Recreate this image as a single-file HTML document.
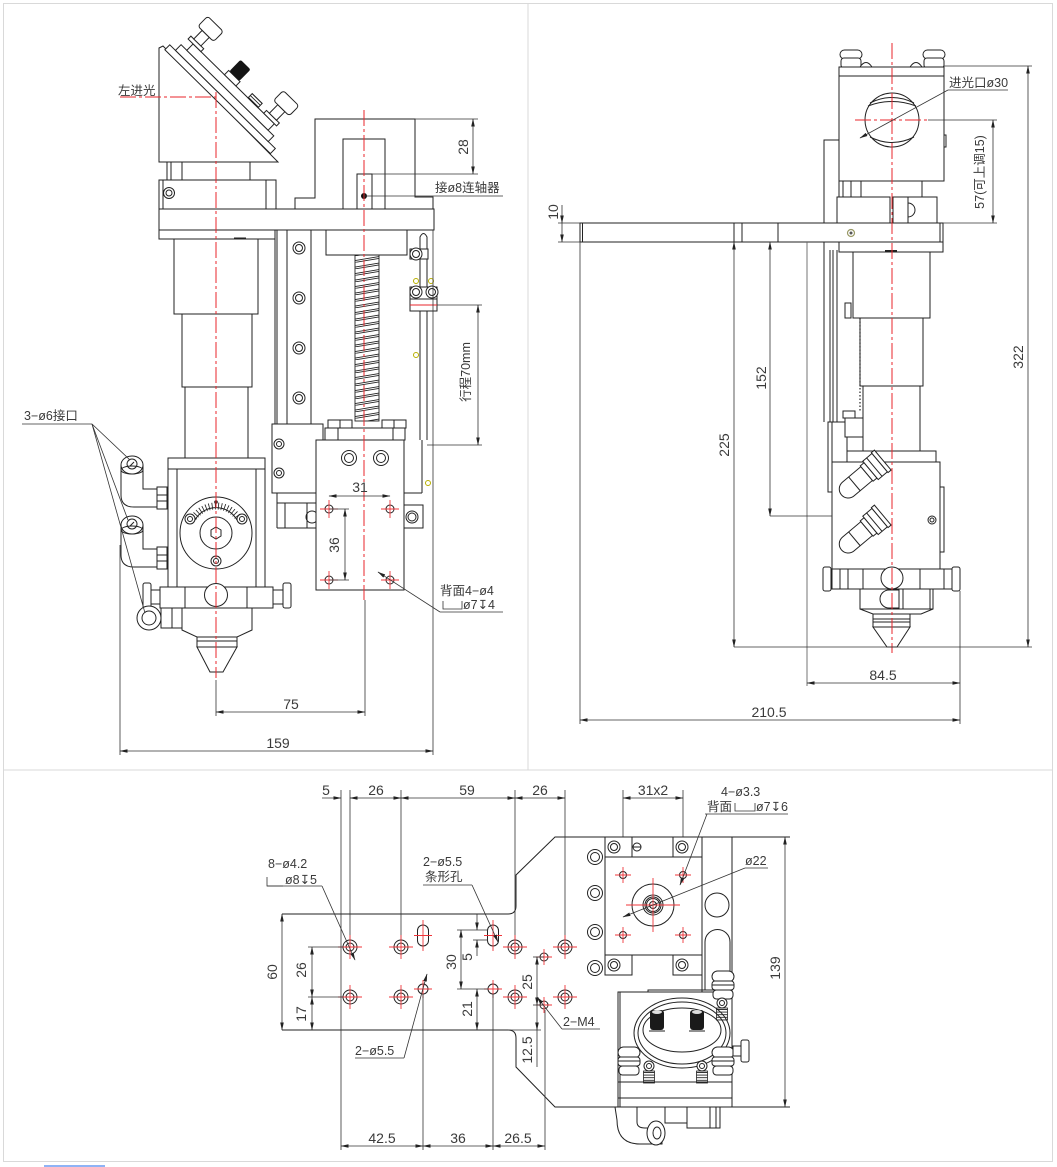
<!DOCTYPE html>
<html><head><meta charset="utf-8"><style>
html,body{margin:0;padding:0;background:#fff;}
svg{display:block;}
.k{fill:none;stroke:#222;stroke-width:1}
.w{fill:#fff;stroke:#222;stroke-width:1}
.g{fill:none;stroke:#666;stroke-width:0.9}
.r{fill:none;stroke:#e8262b;stroke-width:1;stroke-dasharray:16 3 3 3}
.rs{fill:none;stroke:#f0353a;stroke-width:0.9}
.d{fill:none;stroke:#333;stroke-width:0.8}
.y{fill:none;stroke:#b8b000;stroke-width:1}
text{font-family:"Liberation Sans","Noto Sans CJK SC",sans-serif;fill:#3a3a3a;font-size:14px}
.c{text-anchor:middle}
.s{font-size:12.5px}
</style></head><body>
<svg width="1057" height="1167" viewBox="0 0 1057 1167" xmlns="http://www.w3.org/2000/svg">
<defs>
<marker id="a" markerWidth="8" markerHeight="6" refX="7.5" refY="3" orient="auto-start-reverse" markerUnits="userSpaceOnUse"><path d="M0,1.2 L8,3 L0,4.8z" fill="#222"/></marker>
<pattern id="coil" patternUnits="userSpaceOnUse" x="355" y="256" width="24" height="6.5"><path d="M0,4.6 L24,0.6 M0,6.4 L24,2.4" stroke="#222" stroke-width="0.9" fill="none"/></pattern>
<pattern id="hat" patternUnits="userSpaceOnUse" width="10" height="2.6"><path d="M0,1.3 H10" stroke="#222" stroke-width="0.9"/></pattern>
<g id="hs"><circle r="7" class="k"/><circle r="4" class="k"/><path d="M-12,0H12M0,-12V12" class="rs"/></g>
<g id="sc"><circle r="6" class="w"/><circle r="3.5" class="k"/></g>
<g id="sc2"><circle r="7.5" class="w"/><circle r="4.5" class="k"/></g>
<g id="mk"><rect x="-11" y="-15" width="22" height="11" rx="5.5" class="w"/><rect x="-11" y="-5" width="22" height="9" rx="3" class="w"/><rect x="-10" y="4" width="20" height="9" rx="3.5" class="w"/><line x1="-11" y1="-1" x2="11" y2="-1" class="k"/></g>
<g id="th"><circle r="5" class="w"/><circle r="2.5" class="k"/><rect x="-5.5" y="5" width="11" height="12" fill="url(#hat)" stroke="#222" stroke-width="0.8"/></g>
<g id="elb"><path class="w" d="M-11,0 L-11,30 Q-11,42 2,42 L25,42 L25,24 L11,24 L11,0 Z"/><rect x="25" y="22" width="10" height="22" class="w"/><line x1="25" y1="30" x2="35" y2="30" class="k"/><line x1="25" y1="36" x2="35" y2="36" class="k"/><ellipse cx="0" cy="0" rx="11" ry="9" class="w"/><ellipse cx="0" cy="5" rx="11" ry="4" class="k"/><circle cx="0" cy="-1" r="5" class="k"/><line x1="-2" y1="1" x2="2" y2="-3" class="k"/></g>
<g id="ft"><path class="w" d="M-14,-9 L10,-9 L10,9 L-14,9 A9,9 0 0 1 -14,-9 Z"/><line x1="-6" y1="-9" x2="-6" y2="9" class="k"/><rect x="10" y="-10" width="5" height="20" class="w"/><rect x="15" y="-12" width="12" height="24" class="w"/><line x1="20" y1="-12" x2="20" y2="12" class="k"/><rect x="27" y="-13" width="4" height="26" class="w"/></g>
</defs>

<!-- frame -->
<rect x="3.5" y="3.5" width="1049" height="1158" fill="none" stroke="#d9d9d9"/>
<line x1="528" y1="3" x2="528" y2="770" stroke="#d9d9d9"/>
<line x1="3" y1="770" x2="1053" y2="770" stroke="#d9d9d9"/>
<line x1="44" y1="1166" x2="105" y2="1166" stroke="#8fb3f5" stroke-width="2"/>

<!-- ================= LEFT PANEL ================= -->
<!-- mirror block -->
<path class="w" d="M159,48 L163,46 L278,162 L159,162 Z"/>
<g transform="translate(162,47) rotate(44.5)">
 <rect class="w" x="4" y="-7" width="148" height="7"/>
 <rect class="w" x="12" y="-15" width="130" height="8"/>
 <rect class="w" x="20" y="-24" width="114" height="9"/>
 <rect class="w" x="13" y="-28" width="18" height="4"/>
 <rect class="w" x="17" y="-40" width="10" height="12"/>
 <rect class="w" x="11" y="-54" width="22" height="14" rx="3"/>
 <rect class="w" x="119" y="-28" width="18" height="4"/>
 <rect class="w" x="123" y="-40" width="10" height="12"/>
 <rect class="w" x="117" y="-54" width="22" height="14" rx="3"/>
 <rect class="w" x="64" y="-30" width="16" height="6"/>
 <rect x="65" y="-46" width="14" height="16" rx="2" fill="#151515"/>
 <rect x="97" y="-30" width="14" height="6" fill="url(#hat)" stroke="#222"/>
</g>
<rect class="w" x="167" y="162" width="83" height="18"/>
<line class="k" x1="171" y1="162" x2="171" y2="180"/><line class="k" x1="182" y1="162" x2="182" y2="180"/>
<rect class="w" x="159" y="180" width="117" height="29"/>
<line class="k" x1="163" y1="180" x2="163" y2="209"/><line class="k" x1="266" y1="180" x2="266" y2="209"/>
<circle class="k" cx="169" cy="193" r="5.5"/><circle class="k" cx="169" cy="193" r="3"/>

<!-- slider top structure -->
<polyline class="w" points="295,209 295,198 315,198 315,119 415,119 415,197 433,197 433,209"/>
<polyline class="k" points="343,209 343,139 385,139 385,209"/>
<rect class="w" x="357" y="174" width="15" height="35"/>
<circle cx="364" cy="196" r="3" fill="#111"/>
<!-- main plate -->
<rect class="w" x="159" y="209" width="275" height="21"/>
<rect class="w" x="159" y="230" width="116" height="9"/>
<line x1="234" y1="238.5" x2="246" y2="238.5" stroke="#222" stroke-width="2"/>
<!-- tube stack -->
<rect class="w" x="174" y="239" width="84" height="75"/>
<rect class="w" x="182" y="314" width="70" height="73"/>
<rect class="w" x="185" y="387" width="63" height="71"/>
<rect class="w" x="168" y="458" width="97" height="11"/>
<rect class="w" x="168" y="469" width="97" height="118"/>
<line class="k" x1="177" y1="469" x2="177" y2="587"/><line class="k" x1="256" y1="469" x2="256" y2="587"/>
<!-- dial -->
<circle class="k" cx="216" cy="533" r="36"/>
<circle class="k" cx="216" cy="533" r="16"/>
<polygon class="k" points="216,527 221,530 221,536 216,539 211,536 211,530"/>
<path d="M193.9,517.5 A27,27 0 0 1 238.1,517.5" fill="none" stroke="#222" stroke-width="7" stroke-dasharray="0.8 2.3"/>
<path d="M195,520 A24,24 0 0 1 237,520" class="k"/>
<circle class="w" cx="190" cy="519" r="5"/><circle class="k" cx="190" cy="519" r="2.5"/>
<circle class="w" cx="242" cy="519" r="5"/><circle class="k" cx="242" cy="519" r="2.5"/>
<circle class="w" cx="216" cy="561" r="5"/><circle class="k" cx="216" cy="561" r="2.5"/>
<circle cx="216" cy="502" r="1.8" fill="#222"/>
<!-- elbow fittings -->
<use href="#elb" x="132" y="465"/>
<use href="#elb" x="132" y="525"/>
<!-- bottom band -->
<rect class="w" x="160" y="587" width="113" height="21"/>
<line class="k" x1="185" y1="587" x2="185" y2="608"/><line class="k" x1="247" y1="587" x2="247" y2="608"/>
<rect class="w" x="151" y="590" width="9" height="14"/>
<rect class="w" x="143" y="583" width="8" height="25" rx="2"/>
<rect class="w" x="273" y="590" width="10" height="14"/>
<rect class="w" x="283" y="583" width="8" height="25" rx="2"/>
<circle class="w" cx="216" cy="595" r="11.5"/>
<!-- lower -->
<rect class="w" x="161" y="608" width="22" height="20"/>
<line class="k" x1="172" y1="608" x2="172" y2="628"/>
<circle class="w" cx="149" cy="618" r="12"/><circle class="k" cx="149" cy="618" r="7"/>
<polygon class="w" points="182,608 252,608 252,630 237,637 197,637 182,630"/>
<rect class="w" x="197" y="637" width="40" height="10"/>
<line class="k" x1="197" y1="641" x2="237" y2="641"/>
<polygon class="w" points="197,647 237,647 223,672 210,672"/>

<!-- rail & screw -->
<line class="k" x1="275" y1="230" x2="275" y2="424"/>
<line class="k" x1="277" y1="230" x2="277" y2="528"/>
<rect class="w" x="287" y="230" width="24" height="198"/>
<use href="#sc" x="299" y="248"/><use href="#sc" x="299" y="298"/><use href="#sc" x="299" y="348"/><use href="#sc" x="299" y="398"/>
<rect class="w" x="326" y="230" width="81" height="25"/>
<rect x="355" y="255" width="24" height="166" fill="url(#coil)" stroke="#222" stroke-width="0.9"/>
<rect class="w" x="328" y="420" width="24" height="8"/><line class="k" x1="340" y1="420" x2="340" y2="428"/>
<rect class="w" x="382" y="420" width="24" height="8"/><line class="k" x1="394" y1="420" x2="394" y2="428"/>
<rect class="w" x="325" y="428" width="80" height="12"/>
<line class="k" x1="338" y1="428" x2="338" y2="440"/><line class="k" x1="393" y1="428" x2="393" y2="440"/>
<!-- rod right -->
<path class="w" d="M420,440 L420,237 Q423.5,230 427,237 L427,440"/>
<rect class="w" x="410" y="249" width="18" height="10"/><use href="#sc" x="416" y="254"/>
<rect class="w" x="410" y="287" width="27" height="24"/>
<line class="k" x1="410" y1="299" x2="437" y2="299"/>
<line x1="410" y1="305" x2="437" y2="305" stroke="#e8262b"/>
<use href="#sc" x="416" y="292"/><use href="#sc" x="432" y="292"/>
<circle class="y" cx="416" cy="281" r="2.5"/><circle class="y" cx="431" cy="281" r="2.5"/><circle class="y" cx="416" cy="355" r="2.5"/><circle class="y" cx="428" cy="483" r="2.5"/>
<!-- carriage -->
<rect class="w" x="272" y="424" width="51" height="69"/>
<circle class="k" cx="279" cy="444" r="5"/><circle class="k" cx="279" cy="444" r="2.5"/>
<circle class="k" cx="279" cy="473" r="5"/><circle class="k" cx="279" cy="473" r="2.5"/>
<line class="k" x1="277" y1="493" x2="316" y2="493"/>
<line class="k" x1="277" y1="503" x2="316" y2="503"/>
<rect class="w" x="285" y="503" width="22" height="25"/>
<circle class="k" cx="312" cy="517" r="6"/>
<line class="k" x1="277" y1="528" x2="316" y2="528"/>
<line class="k" x1="422" y1="440" x2="422" y2="493"/>
<line class="k" x1="404" y1="493" x2="422" y2="493"/>
<rect class="w" x="404" y="505" width="19" height="23"/>
<circle class="k" cx="412" cy="517" r="6"/><circle class="k" cx="412" cy="517" r="4"/>
<rect class="w" x="316" y="440" width="88" height="150"/>
<use href="#sc2" x="349" y="458"/><use href="#sc2" x="381" y="458"/>
<g>
<circle class="k" cx="329" cy="509" r="4"/><path class="rs" d="M320,509H338M329,500V518"/>
<circle class="k" cx="390" cy="509" r="4"/><path class="rs" d="M381,509H399M390,500V518"/>
<circle class="k" cx="329" cy="580" r="4"/><path class="rs" d="M320,580H338M329,571V589"/>
<circle class="k" cx="390" cy="580" r="4"/><path class="rs" d="M381,580H399M390,571V589"/>
</g>
<!-- center lines -->
<line class="r" x1="216" y1="92" x2="216" y2="678"/>
<line class="r" x1="120" y1="97" x2="216" y2="97"/>
<line class="r" x1="364" y1="110" x2="364" y2="600"/>
<!-- left panel dims -->
<text x="118" y="95" class="s">左进光</text>
<line class="d" x1="415" y1="119" x2="478" y2="119"/>
<line class="d" x1="372" y1="174" x2="478" y2="174"/>
<line class="d" x1="473" y1="119" x2="473" y2="174" marker-start="url(#a)" marker-end="url(#a)"/>
<text class="c" transform="rotate(-90 468 147)" x="468" y="147">28</text>
<line class="d" x1="364" y1="196" x2="503" y2="196"/>
<text x="435" y="192" class="s">接ø8连轴器</text>
<line class="d" x1="437" y1="305" x2="482" y2="305"/>
<line class="d" x1="427" y1="445" x2="482" y2="445"/>
<line class="d" x1="478" y1="305" x2="478" y2="445" marker-start="url(#a)" marker-end="url(#a)"/>
<text class="c s" transform="rotate(-90 470 372)" x="470" y="372">行程70mm</text>
<line class="d" x1="329" y1="496" x2="390" y2="496" marker-start="url(#a)" marker-end="url(#a)"/>
<text class="c" x="360" y="492">31</text>
<line class="d" x1="329" y1="509" x2="349" y2="509"/>
<line class="d" x1="329" y1="580" x2="349" y2="580"/>
<line class="d" x1="345" y1="509" x2="345" y2="580" marker-start="url(#a)" marker-end="url(#a)"/>
<text class="c" transform="rotate(-90 339 545)" x="339" y="545">36</text>
<line class="d" x1="440" y1="612" x2="378" y2="572" marker-end="url(#a)"/>
<line class="d" x1="440" y1="612" x2="503" y2="612"/>
<text x="440" y="595" class="s">背面4−ø4</text>
<path class="d" d="M443,601 L443,609 L462,609 L462,601"/>
<text x="463" y="609" class="s">ø7↧4</text>
<text x="24" y="420" class="s">3−ø6接口</text>
<line class="d" x1="22" y1="424" x2="92" y2="424"/>
<line class="d" x1="92" y1="424" x2="130" y2="460"/>
<line class="d" x1="92" y1="424" x2="128" y2="520"/>
<line class="d" x1="92" y1="424" x2="145" y2="613"/>
<line class="d" x1="216" y1="680" x2="216" y2="716"/>
<line class="d" x1="365" y1="600" x2="365" y2="716"/>
<line class="d" x1="216" y1="712" x2="365" y2="712" marker-start="url(#a)" marker-end="url(#a)"/>
<text class="c" x="291" y="709">75</text>
<line class="d" x1="120" y1="545" x2="120" y2="755"/>
<line class="d" x1="433" y1="230" x2="433" y2="755"/>
<line class="d" x1="120" y1="751" x2="433" y2="751" marker-start="url(#a)" marker-end="url(#a)"/>
<text class="c" x="278" y="748">159</text>

<!-- ================= RIGHT TOP PANEL ================= -->
<!-- top knobs -->
<rect class="w" x="840" y="50" width="22" height="9" rx="4.5"/><rect class="w" x="841" y="58" width="20" height="10" rx="3"/>
<path class="w" d="M860,67 Q866,58 872,67 Z"/>
<path class="w" d="M910,67 Q916,58 922,67 Z"/>
<rect class="w" x="923" y="50" width="22" height="9" rx="4.5"/><rect class="w" x="924" y="58" width="20" height="10" rx="3"/>
<rect class="w" x="839" y="67" width="105" height="114"/>
<line class="k" x1="839" y1="76" x2="944" y2="76"/>
<rect class="w" x="944" y="135" width="2" height="12"/>
<rect class="w" x="824" y="140" width="15" height="83"/>
<circle class="w" cx="892" cy="120" r="27"/>
<path class="k" d="M870,103 Q892,92 914,103"/><path class="k" d="M870,137 Q892,148 914,137"/>
<path class="k" d="M868,106 Q892,97 916,106"/>
<!-- under block -->
<rect class="w" x="843" y="181" width="18" height="16"/><line class="k" x1="851" y1="181" x2="851" y2="197"/>
<line class="k" x1="922" y1="181" x2="922" y2="197"/>
<rect class="w" x="837" y="197" width="53" height="26"/>
<rect class="w" x="893" y="197" width="44" height="26"/>
<line class="k" x1="908" y1="197" x2="908" y2="223"/>
<path class="k" d="M908,203 A7,7 0 0 1 908,217"/>
<!-- arm -->
<rect class="w" x="580" y="223" width="363" height="19"/>
<line class="k" x1="582.5" y1="223" x2="582.5" y2="242"/>
<line class="k" x1="734" y1="223" x2="734" y2="242"/>
<line class="k" x1="742" y1="223" x2="742" y2="242"/>
<line class="k" x1="778" y1="223" x2="778" y2="242"/>
<line class="k" x1="940" y1="223" x2="940" y2="242"/>
<circle cx="851" cy="233" r="3.5" fill="none" stroke="#996" stroke-width="1.2"/><circle cx="851" cy="233" r="1.5" fill="#555"/>
<rect class="w" x="839" y="242" width="104" height="10"/>
<line x1="885" y1="251" x2="897" y2="251" stroke="#222" stroke-width="2"/>
<!-- rails -->
<line class="g" x1="807" y1="242" x2="807" y2="686"/>
<line class="k" x1="824" y1="242" x2="824" y2="422"/>
<line class="k" x1="830" y1="250" x2="830" y2="422"/>
<line class="k" x1="833" y1="250" x2="833" y2="422"/>
<line class="k" x1="837" y1="250" x2="837" y2="422"/>
<rect class="w" x="845" y="303" width="6" height="15"/>
<rect class="w" x="828" y="422" width="19" height="70"/>
<line class="k" x1="832" y1="422" x2="832" y2="492"/>
<rect class="w" x="843" y="411" width="12" height="7"/>
<rect class="w" x="845" y="418" width="18" height="19"/>
<!-- tubes -->
<rect class="w" x="853" y="252" width="77" height="66"/>
<rect class="w" x="860" y="318" width="63" height="68"/>
<line x1="860" y1="318" x2="860" y2="412" stroke="#222" stroke-width="1.2" stroke-dasharray="1.5 2"/>
<rect class="w" x="863" y="386" width="57" height="65"/>
<rect class="w" x="847" y="451" width="89" height="11"/>
<rect class="w" x="832" y="462" width="108" height="108"/>
<rect class="w" x="940" y="487" width="4" height="65"/>
<circle class="k" cx="932" cy="520" r="4"/><circle class="k" cx="932" cy="520" r="2"/>
<use href="#ft" transform="translate(859,480) rotate(-40)"/>
<use href="#ft" transform="translate(859,535) rotate(-40)"/>
<!-- bottom -->
<rect class="w" x="832" y="569" width="120" height="20"/>
<rect class="w" x="823" y="567" width="8" height="24" rx="2"/>
<rect class="w" x="952" y="567" width="8" height="24" rx="2"/>
<line class="k" x1="840" y1="569" x2="840" y2="589"/><line class="k" x1="848" y1="569" x2="848" y2="589"/>
<line class="k" x1="863" y1="569" x2="863" y2="589"/><line class="k" x1="920" y1="569" x2="920" y2="589"/>
<line class="k" x1="944" y1="569" x2="944" y2="589"/>
<circle class="w" cx="892" cy="578" r="11"/>
<rect class="w" x="860" y="589" width="73" height="20"/>
<rect class="w" x="903" y="589" width="27" height="20"/>
<path class="w" d="M899,590 L889,590 A9,9 0 0 0 889,608 L899,608 Z"/>
<line class="k" x1="899" y1="590" x2="899" y2="608"/>
<polygon class="w" points="860,609 933,609 921,614 873,614"/>
<rect class="w" x="873" y="614" width="37" height="13"/>
<line class="k" x1="873" y1="619" x2="910" y2="619"/><line class="k" x1="873" y1="622" x2="910" y2="622"/>
<polygon class="w" points="873,627 910,627 897,647 887,647"/>
<!-- center lines -->
<line class="r" x1="892" y1="43" x2="892" y2="653"/>
<line class="r" x1="855" y1="120" x2="928" y2="120"/>
<!-- dims right -->
<line class="d" x1="860" y1="138" x2="948" y2="90" marker-start="url(#a)"/>
<line class="d" x1="948" y1="90" x2="1008" y2="90"/>
<text x="949" y="87" class="s">进光口ø30</text>
<line class="d" x1="928" y1="120" x2="997" y2="120"/>
<line class="d" x1="943" y1="223" x2="997" y2="223"/>
<line class="d" x1="993" y1="120" x2="993" y2="223" marker-start="url(#a)" marker-end="url(#a)"/>
<text class="c s" transform="rotate(-90 984 172)" x="984" y="172">57(可上调15)</text>
<line class="d" x1="944" y1="66" x2="1032" y2="66"/>
<line class="d" x1="734" y1="647" x2="1032" y2="647"/>
<line class="d" x1="1028" y1="66" x2="1028" y2="647" marker-start="url(#a)" marker-end="url(#a)"/>
<text class="c" transform="rotate(-90 1023 357)" x="1023" y="357">322</text>
<line class="d" x1="558" y1="223" x2="580" y2="223"/>
<line class="d" x1="558" y1="242" x2="580" y2="242"/>
<line class="d" x1="562" y1="205" x2="562" y2="223" marker-end="url(#a)"/>
<line class="d" x1="562" y1="223" x2="562" y2="242" marker-end="url(#a)"/>
<text class="c" transform="rotate(-90 558 212)" x="558" y="212">10</text>
<line class="d" x1="734" y1="242" x2="734" y2="647" marker-start="url(#a)" marker-end="url(#a)"/>
<text class="c" transform="rotate(-90 729 445)" x="729" y="445">225</text>
<line class="d" x1="770" y1="516" x2="832" y2="516"/>
<line class="d" x1="770" y1="242" x2="770" y2="516" marker-start="url(#a)" marker-end="url(#a)"/>
<text class="c" transform="rotate(-90 766 378)" x="766" y="378">152</text>
<line class="d" x1="960" y1="591" x2="960" y2="724"/>
<line class="d" x1="807" y1="683" x2="960" y2="683" marker-start="url(#a)" marker-end="url(#a)"/>
<text class="c" x="883" y="680">84.5</text>
<line class="d" x1="580" y1="242" x2="580" y2="724"/>
<line class="d" x1="580" y1="720" x2="960" y2="720" marker-start="url(#a)" marker-end="url(#a)"/>
<text class="c" x="769" y="717">210.5</text>

<!-- ================= BOTTOM PANEL ================= -->
<!-- plate outline -->
<path class="k" d="M282,914 L508,914 Q516,914 516,906 L516,875 L555,837 L790,837"/>
<path class="k" d="M282,1030 L508,1030 Q516,1030 516,1038 L516,1067 L555,1107 L790,1107"/>
<line class="d" x1="508" y1="1030" x2="541" y2="1030"/>
<line class="k" x1="702" y1="837" x2="702" y2="992"/>
<line class="k" x1="732" y1="837" x2="732" y2="992"/>
<!-- top ext lines -->
<line class="d" x1="341" y1="790" x2="341" y2="1150"/>
<line class="d" x1="350" y1="790" x2="350" y2="940"/>
<line class="d" x1="401" y1="790" x2="401" y2="940"/>
<line class="d" x1="515" y1="790" x2="515" y2="940"/>
<line class="d" x1="565" y1="790" x2="565" y2="940"/>
<line class="d" x1="322" y1="798" x2="341" y2="798" marker-end="url(#a)"/>
<line class="d" x1="350" y1="798" x2="401" y2="798" marker-start="url(#a)" marker-end="url(#a)"/>
<line class="d" x1="401" y1="798" x2="515" y2="798" marker-start="url(#a)" marker-end="url(#a)"/>
<line class="d" x1="515" y1="798" x2="565" y2="798" marker-start="url(#a)" marker-end="url(#a)"/>
<text class="c" x="326" y="795">5</text>
<text class="c" x="376" y="795">26</text>
<text class="c" x="467" y="795">59</text>
<text class="c" x="540" y="795">26</text>
<line class="d" x1="623" y1="790" x2="623" y2="875"/>
<line class="d" x1="683" y1="790" x2="683" y2="840"/>
<line class="d" x1="623" y1="798" x2="683" y2="798" marker-start="url(#a)" marker-end="url(#a)"/>
<text class="c" x="653" y="795">31x2</text>
<!-- holes -->
<use href="#hs" x="350" y="947"/><use href="#hs" x="401" y="947"/><use href="#hs" x="515" y="947"/><use href="#hs" x="565" y="947"/>
<use href="#hs" x="350" y="997"/><use href="#hs" x="401" y="997"/><use href="#hs" x="515" y="997"/><use href="#hs" x="565" y="997"/>
<rect class="k" x="417.5" y="925" width="11" height="21" rx="5.5"/><path class="rs" d="M414,935.5H432M423,920V951"/>
<rect class="k" x="487.5" y="925" width="11" height="21" rx="5.5"/><path class="rs" d="M484,935.5H502M493,920V951"/>
<circle class="k" cx="423" cy="989" r="5"/><path class="rs" d="M414,989H432M423,980V998"/>
<circle class="k" cx="493" cy="989" r="5"/><path class="rs" d="M484,989H502M493,980V998"/>
<circle class="k" cx="544" cy="957" r="4"/><path class="rs" d="M536,957H552M544,949V965"/>
<circle class="k" cx="544" cy="1005" r="4"/><path class="rs" d="M536,1005H552M544,997V1013"/>
<!-- left dims -->
<line class="d" x1="282" y1="914" x2="282" y2="1030" marker-start="url(#a)" marker-end="url(#a)"/>
<text class="c" transform="rotate(-90 277 972)" x="277" y="972">60</text>
<line class="d" x1="308" y1="947" x2="343" y2="947"/>
<line class="d" x1="308" y1="997" x2="343" y2="997"/>
<line class="d" x1="312" y1="947" x2="312" y2="997" marker-start="url(#a)" marker-end="url(#a)"/>
<line class="d" x1="312" y1="997" x2="312" y2="1030" marker-start="url(#a)" marker-end="url(#a)"/>
<text class="c" transform="rotate(-90 306 970)" x="306" y="970">26</text>
<text class="c" transform="rotate(-90 306 1014)" x="306" y="1014">17</text>
<line class="d" x1="457" y1="930" x2="488" y2="930"/>
<line class="d" x1="473" y1="940" x2="488" y2="940"/>
<line class="d" x1="457" y1="989" x2="488" y2="989"/>
<line class="d" x1="461" y1="930" x2="461" y2="989" marker-start="url(#a)" marker-end="url(#a)"/>
<text class="c" transform="rotate(-90 456 962)" x="456" y="962">30</text>
<line class="d" x1="477" y1="914" x2="477" y2="930" marker-end="url(#a)"/>
<line class="d" x1="477" y1="956" x2="477" y2="940" marker-end="url(#a)"/>
<text class="c" transform="rotate(-90 472 957)" x="472" y="957">5</text>
<line class="d" x1="477" y1="989" x2="477" y2="1030" marker-start="url(#a)" marker-end="url(#a)"/>
<text class="c" transform="rotate(-90 472 1009)" x="472" y="1009">21</text>
<line class="d" x1="533" y1="957" x2="544" y2="957"/>
<line class="d" x1="533" y1="1005" x2="544" y2="1005"/>
<line class="d" x1="537" y1="957" x2="537" y2="1005" marker-start="url(#a)" marker-end="url(#a)"/>
<line class="d" x1="537" y1="1005" x2="537" y2="1030" marker-end="url(#a)"/>
<line class="d" x1="537" y1="1030" x2="537" y2="1067"/>
<text class="c" transform="rotate(-90 532 982)" x="532" y="982">25</text>
<text class="c" transform="rotate(-90 532 1050)" x="532" y="1050">12.5</text>
<!-- bottom dims -->
<line class="d" x1="423" y1="994" x2="423" y2="1150"/>
<line class="d" x1="493" y1="994" x2="493" y2="1150"/>
<line class="d" x1="545" y1="1010" x2="545" y2="1150"/>
<line class="d" x1="341" y1="1146" x2="423" y2="1146" marker-start="url(#a)" marker-end="url(#a)"/>
<line class="d" x1="423" y1="1146" x2="493" y2="1146" marker-start="url(#a)" marker-end="url(#a)"/>
<line class="d" x1="493" y1="1146" x2="545" y2="1146" marker-start="url(#a)" marker-end="url(#a)"/>
<text class="c" x="382" y="1143">42.5</text>
<text class="c" x="458" y="1143">36</text>
<text class="c" x="518" y="1143">26.5</text>
<!-- leaders -->
<text x="268" y="868" class="s">8−ø4.2</text>
<text x="285" y="884" class="s">ø8↧5</text>
<path class="d" d="M267,877 L267,886 L283,886"/>
<line class="d" x1="267" y1="886" x2="322" y2="886"/>
<line class="d" x1="322" y1="886" x2="355" y2="960" marker-end="url(#a)"/>
<text x="423" y="866" class="s">2−ø5.5</text>
<text x="425" y="881" class="s">条形孔</text>
<line class="d" x1="423" y1="885" x2="472" y2="885"/>
<line class="d" x1="472" y1="885" x2="498" y2="942" marker-end="url(#a)"/>
<text x="355" y="1055" class="s">2−ø5.5</text>
<line class="d" x1="355" y1="1058" x2="404" y2="1058"/>
<line class="d" x1="404" y1="1058" x2="427" y2="974" marker-end="url(#a)"/>
<text x="563" y="1026" class="s">2−M4</text>
<line class="d" x1="562" y1="1029" x2="600" y2="1029"/>
<line class="d" x1="562" y1="1029" x2="537" y2="997" marker-end="url(#a)"/>
<!-- flange block -->
<use href="#sc2" x="595" y="857"/><use href="#sc2" x="595" y="893"/><use href="#sc2" x="595" y="932"/><use href="#sc2" x="595" y="968"/>
<rect class="w" x="605" y="837" width="97" height="20"/>
<line class="k" x1="632" y1="837" x2="632" y2="857"/><line class="k" x1="673" y1="837" x2="673" y2="857"/>
<rect class="w" x="605" y="955" width="27" height="20"/>
<rect class="w" x="673" y="955" width="29" height="20"/>
<rect class="w" x="605" y="857" width="97" height="98"/>
<use href="#sc" x="614" y="847"/><use href="#sc" x="682" y="847"/><use href="#sc" x="614" y="965"/><use href="#sc" x="682" y="965"/>
<circle class="k" cx="637" cy="847" r="4"/><line class="k" x1="633" y1="847" x2="641" y2="847"/>
<circle class="k" cx="653" cy="905" r="21"/>
<circle class="k" cx="653" cy="905" r="10"/><circle class="k" cx="653" cy="905" r="8"/><circle class="k" cx="653" cy="905" r="6.5"/><circle class="k" cx="653" cy="905" r="3.5"/>
<path class="rs" d="M626,905H680M653,878V932"/>
<circle class="k" cx="623" cy="875" r="3.5"/><path class="rs" d="M615,875H631M623,867V883"/>
<circle class="k" cx="683" cy="875" r="3.5"/><path class="rs" d="M675,875H691M683,867V883"/>
<circle class="k" cx="623" cy="935" r="3.5"/><path class="rs" d="M615,935H631M623,927V943"/>
<circle class="k" cx="683" cy="935" r="3.5"/><path class="rs" d="M675,935H691M683,927V943"/>
<circle class="k" cx="717" cy="905" r="12"/>
<path class="k" d="M705,990 L705,942 A12.5,12.5 0 0 1 730,942 L730,990"/>
<line class="d" x1="745" y1="868" x2="623" y2="917" marker-end="url(#a)"/>
<line class="d" x1="745" y1="868" x2="768" y2="868"/>
<text x="745" y="865" class="s">ø22</text>
<text x="721" y="796" class="s">4−ø3.3</text>
<text x="707" y="811" class="s">背面</text>
<path class="d" d="M735,803 L735,811 L755,811 L755,803"/>
<text x="756" y="811" class="s">ø7↧6</text>
<line class="d" x1="705" y1="814" x2="788" y2="814"/>
<line class="d" x1="707" y1="814" x2="680" y2="885" marker-end="url(#a)"/>
<!-- 139 -->
<line class="d" x1="785" y1="837" x2="785" y2="1107" marker-start="url(#a)" marker-end="url(#a)"/>
<text class="c" transform="rotate(-90 780 968)" x="780" y="968">139</text>
<!-- lower assembly -->
<rect class="w" x="618" y="992" width="114" height="115"/>
<path class="k" d="M648,992 L648,990 L732,990"/>
<line class="k" x1="620" y1="992" x2="620" y2="1107"/>
<line class="k" x1="618" y1="1082" x2="732" y2="1082"/>
<line class="k" x1="618" y1="1098" x2="732" y2="1098"/>
<ellipse class="w" cx="682" cy="1033" rx="48" ry="35"/>
<ellipse class="k" cx="682" cy="1033" rx="44" ry="31"/>
<ellipse class="k" cx="682" cy="1030" rx="39" ry="22"/>
<rect x="650" y="1010" width="14" height="20" rx="3" fill="#1a1a1a"/><ellipse cx="657" cy="1012" rx="5" ry="2" fill="#ddd"/>
<rect x="690" y="1010" width="14" height="20" rx="3" fill="#1a1a1a"/><ellipse cx="697" cy="1012" rx="5" ry="2" fill="#ddd"/>
<line class="k" x1="649" y1="1031" x2="665" y2="1031"/><line class="k" x1="689" y1="1031" x2="705" y2="1031"/>
<use href="#mk" x="629" y="1062"/><use href="#mk" x="723" y="1062"/><use href="#mk" x="723" y="986"/>
<use href="#th" x="649" y="1066"/><use href="#th" x="702" y="1066"/><use href="#th" x="722" y="1003"/>
<rect class="w" x="733" y="1046" width="9" height="10"/>
<rect class="w" x="741" y="1040" width="8" height="22" rx="2"/>
<path class="w" d="M615,1107 L637,1107 L637,1122 Q637,1128 645,1128 L662,1128 L662,1144 L640,1144 Q617,1144 617,1120 Z"/>
<ellipse class="w" cx="656" cy="1133" rx="9" ry="12"/><ellipse class="k" cx="657" cy="1133" rx="4" ry="6"/>
<rect class="w" x="665" y="1107" width="22" height="16"/>
<rect class="w" x="687" y="1107" width="33" height="21"/>
<line class="k" x1="710" y1="1107" x2="710" y2="1128"/><line class="k" x1="716" y1="1107" x2="716" y2="1128"/>
</svg>
</body></html>
